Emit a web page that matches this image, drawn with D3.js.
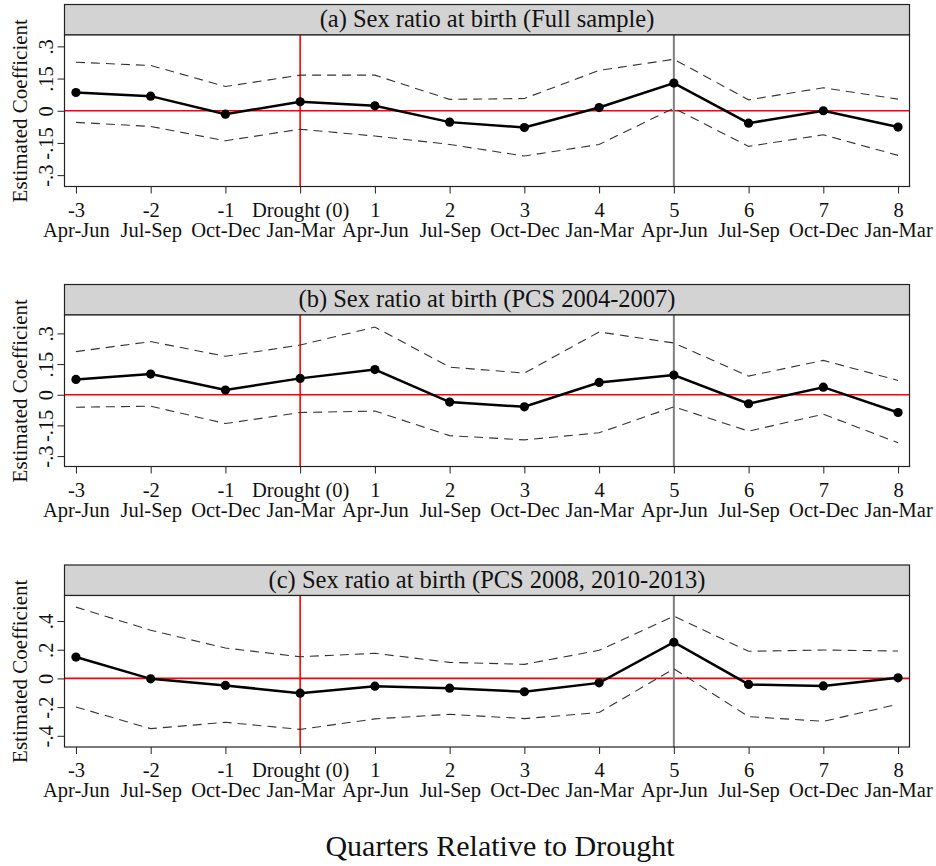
<!DOCTYPE html>
<html>
<head>
<meta charset="utf-8">
<script src="https://cdn.jsdelivr.net/npm/d3@7"></script>
<style>
  body { margin: 0; background: #fff; }
  svg { display: block; font-family: "Liberation Serif", "Times New Roman", serif; }
</style>
</head>
<body>
<div id="chart"></div>
<script>
// quarters relative to the drought
var quarters = [-3, -2, -1, 0, 1, 2, 3, 4, 5, 6, 7, 8];
var quarterLabels = ["-3", "-2", "-1", "Drought (0)", "1", "2", "3", "4", "5", "6", "7", "8"];
var seasonLabels = ["Apr-Jun", "Jul-Sep", "Oct-Dec", "Jan-Mar", "Apr-Jun", "Jul-Sep",
                    "Oct-Dec", "Jan-Mar", "Apr-Jun", "Jul-Sep", "Oct-Dec", "Jan-Mar"];

var panelTitles = ["(a) Sex ratio at birth (Full sample)",
                   "(b) Sex ratio at birth (PCS 2004-2007)",
                   "(c) Sex ratio at birth (PCS 2008, 2010-2013)"];

// panel (a)
var coefA  = [0.085, 0.068, -0.016, 0.042, 0.023, -0.053, -0.078, 0.015, 0.129, -0.058, 0.000, -0.076];
var upperA = [0.226, 0.211, 0.113, 0.166, 0.166, 0.053, 0.057, 0.188, 0.240, 0.051, 0.107, 0.054];
var lowerA = [-0.054, -0.073, -0.140, -0.086, -0.118, -0.157, -0.211, -0.157, 0.012, -0.166, -0.112, -0.208];
var ticksA = [-0.3, -0.15, 0, 0.15, 0.3];
var tickLabelsA = ["-.3", "-.15", "0", ".15", ".3"];

// panel (b)
var coefB  = [0.075, 0.101, 0.023, 0.080, 0.123, -0.036, -0.059, 0.060, 0.096, -0.044, 0.037, -0.087];
var upperB = [0.211, 0.260, 0.188, 0.243, 0.331, 0.135, 0.106, 0.307, 0.253, 0.091, 0.168, 0.070];
var lowerB = [-0.061, -0.056, -0.141, -0.087, -0.080, -0.200, -0.221, -0.186, -0.059, -0.178, -0.095, -0.235];
var ticksB = [-0.3, -0.15, 0, 0.15, 0.3];
var tickLabelsB = ["-.3", "-.15", "0", ".15", ".3"];

// panel (c)
var coefC  = [0.149, -0.003, -0.049, -0.103, -0.054, -0.068, -0.093, -0.031, 0.252, -0.042, -0.052, 0.004];
var upperC = [0.497, 0.336, 0.212, 0.151, 0.175, 0.112, 0.098, 0.196, 0.434, 0.189, 0.198, 0.191];
var lowerC = [-0.199, -0.350, -0.306, -0.355, -0.282, -0.250, -0.280, -0.238, 0.067, -0.266, -0.299, -0.180];
var ticksC = [-0.4, -0.2, 0, 0.2, 0.4];
var tickLabelsC = ["-.4", "-.2", "0", ".2", ".4"];

var droughtQuarter = 0;
var markQuarter = 5;

var width = 936, height = 866;

var svg = d3.select("#chart").append("svg")
    .attr("width", width)
    .attr("height", height);

var left = 64.5, right = 909.5;
var x = d3.scaleLinear().domain([-3.153, 8.153]).range([left, right]);

var panels = [
  { title: panelTitles[0], coef: coefA, upper: upperA, lower: lowerA, ticks: ticksA, labels: tickLabelsA, top: 4.5, domain: [-0.353, 0.353] },
  { title: panelTitles[1], coef: coefB, upper: upperB, lower: lowerB, ticks: ticksB, labels: tickLabelsB, top: 284.5, domain: [-0.351, 0.390] },
  { title: panelTitles[2], coef: coefC, upper: upperC, lower: lowerC, ticks: ticksC, labels: tickLabelsC, top: 565, domain: [-0.478, 0.578] }
];

var headerH = 30.5, plotH = 151.5;

panels.forEach(function(p) {
  var g = svg.append("g");
  var plotTop = p.top + headerH;
  var plotBottom = plotTop + plotH;

  var y = d3.scaleLinear().domain(p.domain).range([plotBottom, plotTop]);

  // header strip
  g.append("rect")
    .attr("x", left).attr("y", p.top)
    .attr("width", right - left).attr("height", headerH)
    .attr("fill", "#d3d3d3")
    .attr("stroke", "#222").attr("stroke-width", 1.2);

  g.append("text")
    .attr("x", (left + right) / 2)
    .attr("y", p.top + 22.5)
    .attr("text-anchor", "middle")
    .style("font-size", "24.5px")
    .attr("fill", "#111")
    .text(p.title);

  // plot area
  g.append("rect")
    .attr("x", left).attr("y", plotTop)
    .attr("width", right - left).attr("height", plotH)
    .attr("fill", "#fff");

  // reference lines
  g.append("line")
    .attr("x1", left).attr("x2", right)
    .attr("y1", y(0)).attr("y2", y(0))
    .attr("stroke", "#ff0000").attr("stroke-width", 1.6);

  g.append("line")
    .attr("x1", x(droughtQuarter)).attr("x2", x(droughtQuarter))
    .attr("y1", plotTop).attr("y2", plotBottom)
    .attr("stroke", "#ff0000").attr("stroke-width", 1.6);

  g.append("line")
    .attr("x1", x(markQuarter)).attr("x2", x(markQuarter))
    .attr("y1", plotTop).attr("y2", plotBottom)
    .attr("stroke", "#7f7f7f").attr("stroke-width", 2);

  // confidence bands
  var line = d3.line()
    .x(function(d, i) { return x(quarters[i]); })
    .y(function(d) { return y(d); });

  [p.upper, p.lower].forEach(function(band) {
    g.append("path")
      .datum(band)
      .attr("d", line)
      .attr("fill", "none")
      .attr("stroke", "#333")
      .attr("stroke-width", 1.1)
      .attr("stroke-dasharray", "9,6");
  });

  // point estimates
  g.append("path")
    .datum(p.coef)
    .attr("d", line)
    .attr("fill", "none")
    .attr("stroke", "#000")
    .attr("stroke-width", 2.5);

  g.selectAll(".dot")
    .data(p.coef)
    .enter()
    .append("circle")
    .attr("cx", function(d, i) { return x(quarters[i]); })
    .attr("cy", function(d) { return y(d); })
    .attr("r", 4.6)
    .attr("fill", "#000");

  // frame around plot area
  g.append("rect")
    .attr("x", left).attr("y", plotTop)
    .attr("width", right - left).attr("height", plotH)
    .attr("fill", "none")
    .attr("stroke", "#222").attr("stroke-width", 1.2);

  // x axis
  var xAxis = g.append("g")
    .attr("transform", "translate(0," + plotBottom + ")")
    .call(d3.axisBottom(x).tickValues(quarters).tickSize(7).tickFormat(""))
    .attr("font-family", null);
  xAxis.select(".domain").remove();
  xAxis.selectAll(".tick line").attr("stroke", "#222").attr("stroke-width", 1);
  xAxis.selectAll(".tick").each(function(d, i) {
    var t = d3.select(this).append("text")
      .attr("fill", "#111")
      .attr("text-anchor", "middle")
      .style("font-size", "20.5px");
    t.append("tspan").attr("x", 0).attr("y", 30).text(quarterLabels[i]);
    t.append("tspan").attr("x", 0).attr("y", 50).text(seasonLabels[i]);
  });

  // y axis
  var yAxis = g.append("g")
    .attr("transform", "translate(" + left + ",0)")
    .call(d3.axisLeft(y).tickValues(p.ticks).tickSize(7)
      .tickFormat(function(d, i) { return p.labels[i]; }))
    .attr("font-family", null);
  yAxis.select(".domain").remove();
  yAxis.selectAll(".tick line").attr("stroke", "#222").attr("stroke-width", 1);
  yAxis.selectAll(".tick text")
    .attr("x", null).attr("dy", null)
    .attr("fill", "#111")
    .style("font-size", "20.5px")
    .attr("text-anchor", "middle")
    .attr("transform", "translate(-11.5,0) rotate(-90)")
    .attr("y", 0);

  g.append("text")
    .attr("transform", "translate(26.5," + (plotTop + plotH / 2) + ") rotate(-90)")
    .attr("text-anchor", "middle")
    .style("font-size", "21px")
    .attr("fill", "#111")
    .text("Estimated Coefficient");
});

svg.append("text")
  .attr("x", 500)
  .attr("y", 856)
  .attr("text-anchor", "middle")
  .style("font-size", "30px")
  .attr("fill", "#111")
  .text("Quarters Relative to Drought");
</script>
</body>
</html>
